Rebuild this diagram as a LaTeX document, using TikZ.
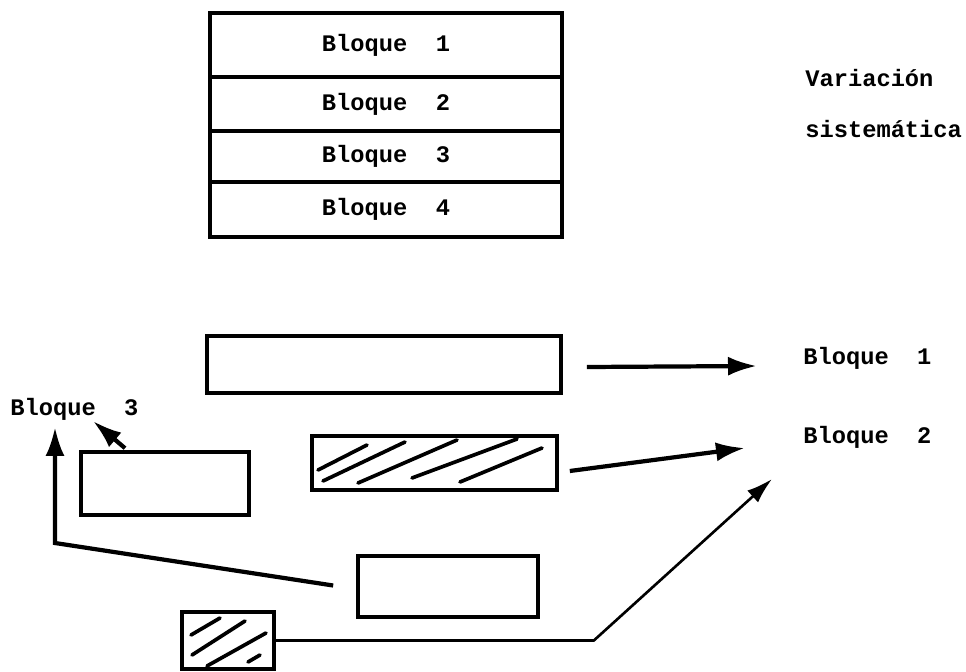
\documentclass[tikz,border=0pt]{standalone}
\usepackage{fontspec}
\setmainfont{Liberation Mono}
\usetikzlibrary{arrows.meta}

\tikzset{
  blk/.style={draw, line width=2.1pt, inner sep=0pt},
  lbl/.style={font=\bfseries\fontsize{13.5}{16}\selectfont, inner sep=0pt},
  hatch/.style={line width=2.1pt, line cap=round},
  fat arrow/.style={line width=2.4pt, -{Latex[length=0.58cm,width=0.38cm]}},
  thin arrow/.style={line width=1.5pt, -{Latex[length=0.52cm,width=0.32cm]}},
}

\begin{document}
\begin{tikzpicture}[x=0.02cm, y=-0.02cm]
  \useasboundingbox (0,0) rectangle (966,672);

  % the four stacked blocks
  \foreach \n/\y/\h in {1/45/1.28, 2/104/1.08, 3/156.5/1.02, 4/209.5/1.10}
    \node[blk, lbl, minimum width=7.04cm, minimum height=\h cm] (r\n) at (386,\y) {Bloque\ \ \n};

  \node[lbl, anchor=base west] (var) at (805,87) {Variación};
  \node[lbl, anchor=base west] (sis) at (805,138) {sistemática};

  % blocks after the shuffle
  \node[blk, minimum width=7.08cm, minimum height=1.14cm] (a) at (384,364.5) {};
  \node[blk, minimum width=4.90cm, minimum height=1.08cm] (b) at (434.5,463) {};
  \node[blk, minimum width=3.36cm, minimum height=1.26cm] (c) at (165,483.5) {};
  \node[blk, minimum width=3.60cm, minimum height=1.22cm] (d) at (448,586.5) {};
  \node[blk, minimum width=1.84cm, minimum height=1.14cm] (e) at (228,640.5) {};

  \node[lbl, anchor=base west] (l1) at (803,364) {Bloque\ \ 1};
  \node[lbl, anchor=base west] (l2) at (803,443) {Bloque\ \ 2};
  \node[lbl, anchor=base west] (l3) at (10,415) {Bloque\ \ 3};

  % hatching of b and e
  \foreach \xa/\ya/\xb/\yb in {318/470/367/445, 323/481/405/442, 358/483/457/440,
                               412/478/517/439, 460/482/542/448,
                               191/635/220/618, 192/655/245/621, 207/666/266/633,
                               248/662/260/655}
    \draw[hatch] (\xa,\ya) -- (\xb,\yb);

  % arrows
  \draw[fat arrow] ([shift={(24,2.5)}]a.east) -- ([shift={(-46,2)}]l1.base west);
  \draw[fat arrow] ([shift={(11,8)}]b.east) -- ([shift={(-58,5)}]l2.base west);
  \draw[fat arrow] ([shift={(-40,-2)}]c.north) -- ([shift={(83,6)}]l3.base west);
  \coordinate (bend) at (55,543);
  \draw[fat arrow] ([shift={(-23,-1)}]d.west) -- (bend) -- ([shift={(45,12)}]l3.base west);
  \draw[thin arrow] (e.east) -- ++(318,0) -- ([shift={(-31,36)}]l2.base west);
\end{tikzpicture}
\end{document}
